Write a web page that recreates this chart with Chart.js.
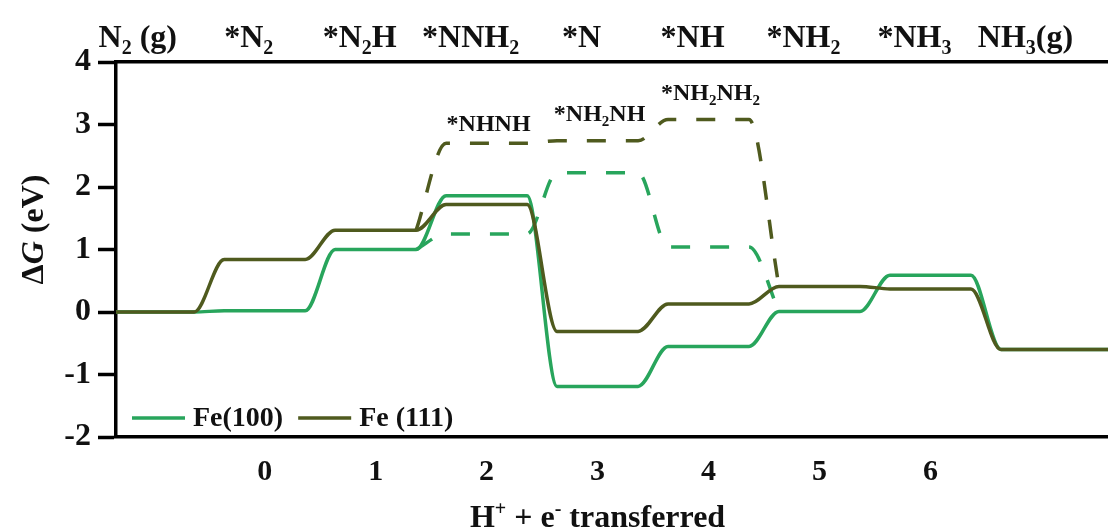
<!DOCTYPE html>
<html>
<head>
<meta charset="utf-8">
<script src="https://cdn.jsdelivr.net/npm/chart.js@4.4.1/dist/chart.umd.min.js"></script>
<style>
  html, body { margin: 0; padding: 0; background: #fff; }
  #wrap { width: 1108px; height: 530px; }
</style>
</head>
<body>
<div id="wrap"><canvas id="myChart" width="1108" height="530"></canvas></div>
<script>
// number of H+ + e- transferred for each intermediate (-1 = N2(g), 7 = NH3(g))
const steps = [-1, 0, 1, 2, 3, 4, 5, 6, 7];
const stateLabels = ['N_2 (g)', '*N_2', '*N_2H', '*NNH_2', '*N', '*NH', '*NH_2', '*NH_3', 'NH_3(g)'];
const tickSteps = [0, 1, 2, 3, 4, 5, 6];
const yTicks = [-2, -1, 0, 1, 2, 3, 4];

// Delta G (eV) along the distal path
const fe100 = [0, 0.02, 1.00, 1.86, -1.19, -0.55, 0.01, 0.59, -0.60];
const fe111 = [0, 0.84, 1.31, 1.72, -0.31, 0.13, 0.41, 0.37, -0.60];

// alternating path (dashed), leaves at *N2H and comes back at *NH2
const altSteps = [1, 2, 3, 4, 5];
const fe100Alt = [1.00, 1.25, 2.23, 1.04, 0.01];
const fe111Alt = [1.31, 2.70, 2.74, 3.08, 0.41];
const altLabels = ['', '*NHNH', '*NH_2NH', '*NH_2NH_2', ''];

const X_MIN = -1.34, X_MAX = 7.6;
const HALF = 0.365; // half width of one level
const LIGHT = '#28a55c';
const DARK = '#4f5a1e';
const FONT = '"Liberation Serif", "Times New Roman", serif';

// each energy level becomes a flat piece, neighbours joined by a short ramp
function levelPoints(xs, ys, openEnds) {
    let pts = [];
    for (let i = 0; i < xs.length; i++) {
        let a = xs[i] - HALF, b = xs[i] + HALF;
        if (openEnds) {
            if (i == 0) { pts.push({x: b, y: ys[i]}); continue; }
            if (i == xs.length - 1) { pts.push({x: a, y: ys[i]}); continue; }
        } else {
            if (i == 0) a = X_MIN;
            if (i == xs.length - 1) b = X_MAX;
        }
        pts.push({x: a, y: ys[i]});
        pts.push({x: b, y: ys[i]});
    }
    return pts;
}

// text with _x subscript, ^x superscript, ~x italic
function drawRich(ctx, str, x, y, size, align) {
    let runs = [];
    for (let i = 0; i < str.length; i++) {
        const c = str[i];
        if ((c == '_' || c == '^' || c == '~') && i + 1 < str.length) {
            runs.push({t: str[i + 1], k: c});
            i++;
        } else {
            const last = runs[runs.length - 1];
            if (last && last.k == '') last.t += c;
            else runs.push({t: c, k: ''});
        }
    }
    const fontOf = (k) => {
        if (k == '_' || k == '^') return 'bold ' + Math.round(size * 0.62) + 'px ' + FONT;
        if (k == '~') return 'italic bold ' + size + 'px ' + FONT;
        return 'bold ' + size + 'px ' + FONT;
    };
    let w = 0;
    runs.forEach(r => { ctx.font = fontOf(r.k); r.w = ctx.measureText(r.t).width; w += r.w; });
    let cx = align == 'center' ? x - w / 2 : (align == 'right' ? x - w : x);
    ctx.textAlign = 'left';
    ctx.textBaseline = 'alphabetic';
    runs.forEach(r => {
        ctx.font = fontOf(r.k);
        const dy = r.k == '_' ? size * 0.22 : (r.k == '^' ? -size * 0.38 : 0);
        ctx.fillText(r.t, cx, y + dy);
        cx += r.w;
    });
}

const textPlugin = {
    id: 'textPlugin',
    afterDraw(chart) {
        const ctx = chart.ctx;
        const xs = chart.scales.x, ys = chart.scales.y;
        const area = chart.chartArea;
        ctx.save();
        ctx.fillStyle = '#111';

        // intermediates above the top frame line
        steps.forEach((s, i) => {
            drawRich(ctx, stateLabels[i], xs.getPixelForValue(s) - 16, 47, 32, 'center');
        });

        // names of the dashed path intermediates
        altSteps.forEach((s, i) => {
            if (!altLabels[i]) return;
            const lift = i == 1 ? 12 : 20;
            drawRich(ctx, altLabels[i], xs.getPixelForValue(s) + 2, ys.getPixelForValue(fe111Alt[i]) - lift, 24, 'center');
        });

        // axis titles
        drawRich(ctx, 'H^+ + e^- transferred', xs.getPixelForValue(3), 527, 32, 'center');
        ctx.save();
        ctx.translate(43, (area.top + area.bottom) / 2 - 20);
        ctx.rotate(-Math.PI / 2);
        drawRich(ctx, '\u0394~G (eV)', 0, 0, 32, 'center');
        ctx.restore();

        // legend in the lower left corner
        let lx = area.left + 16;
        const ly = area.bottom - 19;
        chart.data.datasets.filter(d => !d.borderDash).forEach(d => {
            ctx.strokeStyle = d.borderColor;
            ctx.lineWidth = 3.5;
            ctx.beginPath();
            ctx.moveTo(lx, ly);
            ctx.lineTo(lx + 53, ly);
            ctx.stroke();
            lx += 61;
            ctx.font = 'bold 28px ' + FONT;
            ctx.textAlign = 'left';
            ctx.textBaseline = 'middle';
            ctx.fillText(d.label, lx, ly + 1);
            lx += ctx.measureText(d.label).width + 15;
        });
        ctx.restore();
    }
};

const ctx = document.getElementById('myChart').getContext('2d');
const chart = new Chart(ctx, {
    type: 'line',
    data: {
        datasets: [{
            label: 'Fe(100)',
            data: levelPoints(steps, fe100, false),
            borderColor: LIGHT,
            order: 1
        }, {
            label: 'Fe (111)',
            data: levelPoints(steps, fe111, false),
            borderColor: DARK,
            order: 0
        }, {
            label: 'Fe(100) alt',
            data: levelPoints(altSteps, fe100Alt, true),
            borderColor: LIGHT,
            borderDash: [19, 20],
            order: 3
        }, {
            label: 'Fe (111) alt',
            data: levelPoints(altSteps, fe111Alt, true),
            borderColor: DARK,
            borderDash: [19, 20],
            order: 2
        }]
    },
    options: {
        responsive: false,
        animation: false,
        devicePixelRatio: 1,
        layout: { padding: 0 },
        elements: {
            line: { borderWidth: 3.5, cubicInterpolationMode: 'monotone', fill: false },
            point: { radius: 0 }
        },
        plugins: {
            legend: { display: false },
            tooltip: { enabled: false }
        },
        scales: {
            x: {
                type: 'linear',
                min: X_MIN,
                max: X_MAX,
                afterBuildTicks: (scale) => { scale.ticks = tickSteps.map(v => ({value: v})); },
                afterFit: (scale) => { scale.height = 93; },
                ticks: {
                    color: '#111',
                    padding: 17,
                    font: { family: FONT, size: 30, weight: 'bold' }
                },
                grid: { drawOnChartArea: false, drawTicks: false },
                border: { color: '#000', width: 3.5 }
            },
            x2: {
                type: 'linear',
                position: 'top',
                min: X_MIN,
                max: X_MAX,
                afterFit: (scale) => { scale.height = 62; },
                ticks: { display: false },
                grid: { drawOnChartArea: false, drawTicks: false },
                border: { color: '#000', width: 3.5 }
            },
            y: {
                min: -2,
                max: 4,
                afterBuildTicks: (scale) => { scale.ticks = yTicks.map(v => ({value: v})); },
                afterFit: (scale) => { scale.width = 116; },
                ticks: {
                    color: '#111',
                    padding: 7,
                    font: { family: FONT, size: 32, weight: 'bold' }
                },
                grid: {
                    drawOnChartArea: false,
                    tickLength: 18,
                    tickWidth: 3.5,
                    tickColor: '#000'
                },
                border: { color: '#000', width: 3.5 }
            }
        }
    },
    plugins: [textPlugin]
});
</script>
</body>
</html>
